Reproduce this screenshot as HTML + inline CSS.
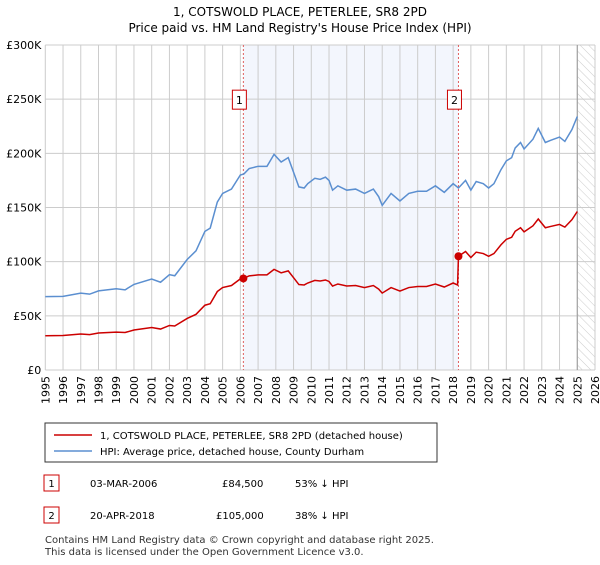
<!DOCTYPE html>
<html><head><meta charset="utf-8"><style>
body{margin:0;background:#fff;font-family:"Liberation Sans","DejaVu Sans",sans-serif;}
svg text{font-family:"DejaVu Sans","Liberation Sans",sans-serif;}
</style></head><body>
<svg id="c" width="600" height="560" viewBox="0 0 600 560">
<defs><pattern id="hatch" width="6" height="6" patternUnits="userSpaceOnUse" patternTransform="rotate(-45)"><line x1="0" y1="0" x2="0" y2="6" stroke="#ccc" stroke-width="1"/></pattern></defs>
<text x="300" y="16" text-anchor="middle" font-size="12">1, COTSWOLD PLACE, PETERLEE, SR8 2PD</text>
<text x="300" y="32" text-anchor="middle" font-size="12">Price paid vs. HM Land Registry's House Price Index (HPI)</text>
<g id="plot"></g>
<g>
<rect x="45" y="423" width="392" height="39" fill="#fff" stroke="#333"/>
<line x1="54" y1="435" x2="92" y2="435" stroke="#cc0000" stroke-width="1.5"/>
<text x="100" y="439" font-size="10">1, COTSWOLD PLACE, PETERLEE, SR8 2PD (detached house)</text>
<line x1="54" y1="451" x2="92" y2="451" stroke="#5b8fd0" stroke-width="1.5"/>
<text x="100" y="455" font-size="10">HPI: Average price, detached house, County Durham</text>
</g>
<g font-size="10">
<rect x="44" y="475" width="15" height="16" fill="#fff" stroke="#cc0000"/><text x="51.5" y="487" text-anchor="middle">1</text>
<text x="90" y="487">03-MAR-2006</text><text x="222" y="487">£84,500</text><text x="295" y="487">53% ↓ HPI</text>
<rect x="44" y="507" width="15" height="16" fill="#fff" stroke="#cc0000"/><text x="51.5" y="519" text-anchor="middle">2</text>
<text x="90" y="519">20-APR-2018</text><text x="216" y="519">£105,000</text><text x="295" y="519">38% ↓ HPI</text>
</g>
<text x="45" y="543" font-size="10" fill="#333">Contains HM Land Registry data © Crown copyright and database right 2025.</text>
<text x="45" y="555" font-size="10" fill="#333">This data is licensed under the Open Government Licence v3.0.</text>
</svg>
<script>
const hpiYears=[1995,1996,1997,1997.5,1998,1999,1999.5,2000,2001,2001.5,2002,2002.3,2003,2003.5,2004,2004.3,2004.7,2005,2005.5,2006,2006.2,2006.5,2007,2007.5,2007.9,2008.3,2008.7,2009.1,2009.3,2009.6,2009.8,2010.2,2010.5,2010.8,2011,2011.2,2011.5,2012,2012.5,2013,2013.5,2013.8,2014,2014.5,2015,2015.5,2016,2016.5,2017,2017.5,2018,2018.3,2018.7,2019,2019.3,2019.7,2020,2020.3,2020.7,2021,2021.3,2021.5,2021.8,2022,2022.5,2022.8,2023.2,2023.5,2024,2024.3,2024.7,2025];
const hpiValues=[67.7,68,71,70,73,75,74,79,84,81,88,87,102,110,128,131,155,163,167,180,181,186,188,188,199,192,196,178,169,168,172,177,176,178,175,166,170,166,167,163,167,160,152,163,156,163,165,165,170,164,172,168,175,166,174,172,168,172,185,193,196,205,210,204,213,223,210,212,215,211,222,234];
const priceYears=[1995,1996,1997,1997.5,1998,1999,1999.5,2000,2001,2001.5,2002,2002.3,2003,2003.5,2004,2004.3,2004.7,2005,2005.5,2006,2006.17,2006.5,2007,2007.5,2007.9,2008.3,2008.7,2009.1,2009.3,2009.6,2009.8,2010.2,2010.5,2010.8,2011,2011.2,2011.5,2012,2012.5,2013,2013.5,2013.8,2014,2014.5,2015,2015.5,2016,2016.5,2017,2017.5,2018,2018.25,2018.3,2018.7,2019,2019.3,2019.7,2020,2020.3,2020.7,2021,2021.3,2021.5,2021.8,2022,2022.5,2022.8,2023.2,2023.5,2024,2024.3,2024.7,2025];
const priceValues=[31.6,31.8,33.2,32.7,34.1,35,34.6,36.9,39.2,37.8,41.1,40.6,47.6,51.4,59.8,61.2,72.4,76.1,78,84.1,84.5,86.9,87.8,87.8,92.9,89.7,91.5,83.1,78.9,78.5,80.3,82.7,82.2,83.1,81.7,77.5,79.4,77.5,78,76.1,78,74.7,71,76.1,72.9,76.1,77.1,77.1,79.4,76.6,80.3,78.5,105,109.4,103.8,108.8,107.5,105,107.5,115.6,120.6,122.5,128.1,131.3,127.5,133.1,139.4,131.3,132.5,134.4,131.9,138.8,146.3];
const saleYears=[2006.17,2018.3];
const saleValues=[84.5,105];
const saleLabels=["1","2"];
const yTicks=[0,50,100,150,200,250,300];
const yTickLabels=["£0","£50K","£100K","£150K","£200K","£250K","£300K"];
const xTicks=[];for(let y=1995;y<=2026;y++)xTicks.push(y);

const L=45.3,R=595,T=45,B=370;
const x=v=>L+(v-1995)/(2026-1995)*(R-L);
const y=v=>B-v/300*(B-T);
const NS="http://www.w3.org/2000/svg";
const g=document.getElementById('plot');
function mk(t,a,p){const e=document.createElementNS(NS,t);for(const k in a)e.setAttribute(k,a[k]);(p||g).appendChild(e);return e;}
let e;
e=mk('rect',{x:x(saleYears[0]),y:T,width:x(saleYears[1])-x(saleYears[0]),height:B-T,fill:'#eef2fc',opacity:0.7});


e=mk('rect',{x:x(2025),y:T,width:R-x(2025),height:B-T,fill:'url(#hatch)'});


xTicks.forEach(t=>{
 e=mk('line',{x1:x(t),x2:x(t),y1:T,y2:B,stroke:'#ccc','stroke-width':1});
 
 
 e=mk('text',{x:0,y:0,'font-size':11,'text-anchor':'end',transform:`translate(${x(t)+4},${B+6}) rotate(-90)`});
 e.textContent=t;
 
 
});
yTicks.forEach((t,i)=>{
 e=mk('line',{x1:L,x2:R,y1:y(t),y2:y(t),stroke:'#ccc','stroke-width':1});
 
 
 e=mk('text',{x:L-4,y:y(t)+4,'font-size':11,'text-anchor':'end'});
 e.textContent=yTickLabels[i];
 
 
});
e=mk('line',{x1:x(2025),x2:x(2025),y1:T,y2:B,stroke:'#999','stroke-width':1});


saleYears.forEach((s,i)=>{
 e=mk('line',{x1:x(s),x2:x(s),y1:T,y2:B,stroke:'#e06060','stroke-width':1,'stroke-dasharray':'2,2'});
 
 
});
e=mk('polyline',{points:hpiYears.map((t,i)=>x(t)+','+y(hpiValues[i])).join(' '),fill:'none',stroke:'#5b8fd0','stroke-width':1.5});


e=mk('polyline',{points:priceYears.map((t,i)=>x(t)+','+y(priceValues[i])).join(' '),fill:'none',stroke:'#cc0000','stroke-width':1.5});


saleYears.forEach((s,i)=>{
 e=mk('circle',{cx:x(s),cy:y(saleValues[i]),r:4,fill:'#cc0000'});
 
 
 e=mk('rect',{x:x(s)-11,y:y(250)-9,width:14,height:19,fill:'#fff',stroke:'#cc0000'});
 
 
 e=mk('text',{x:x(s)-4,y:y(250)+5,'font-size':11,'text-anchor':'middle'});
 e.textContent=saleLabels[i];
 
 
});
</script>
</body></html>
